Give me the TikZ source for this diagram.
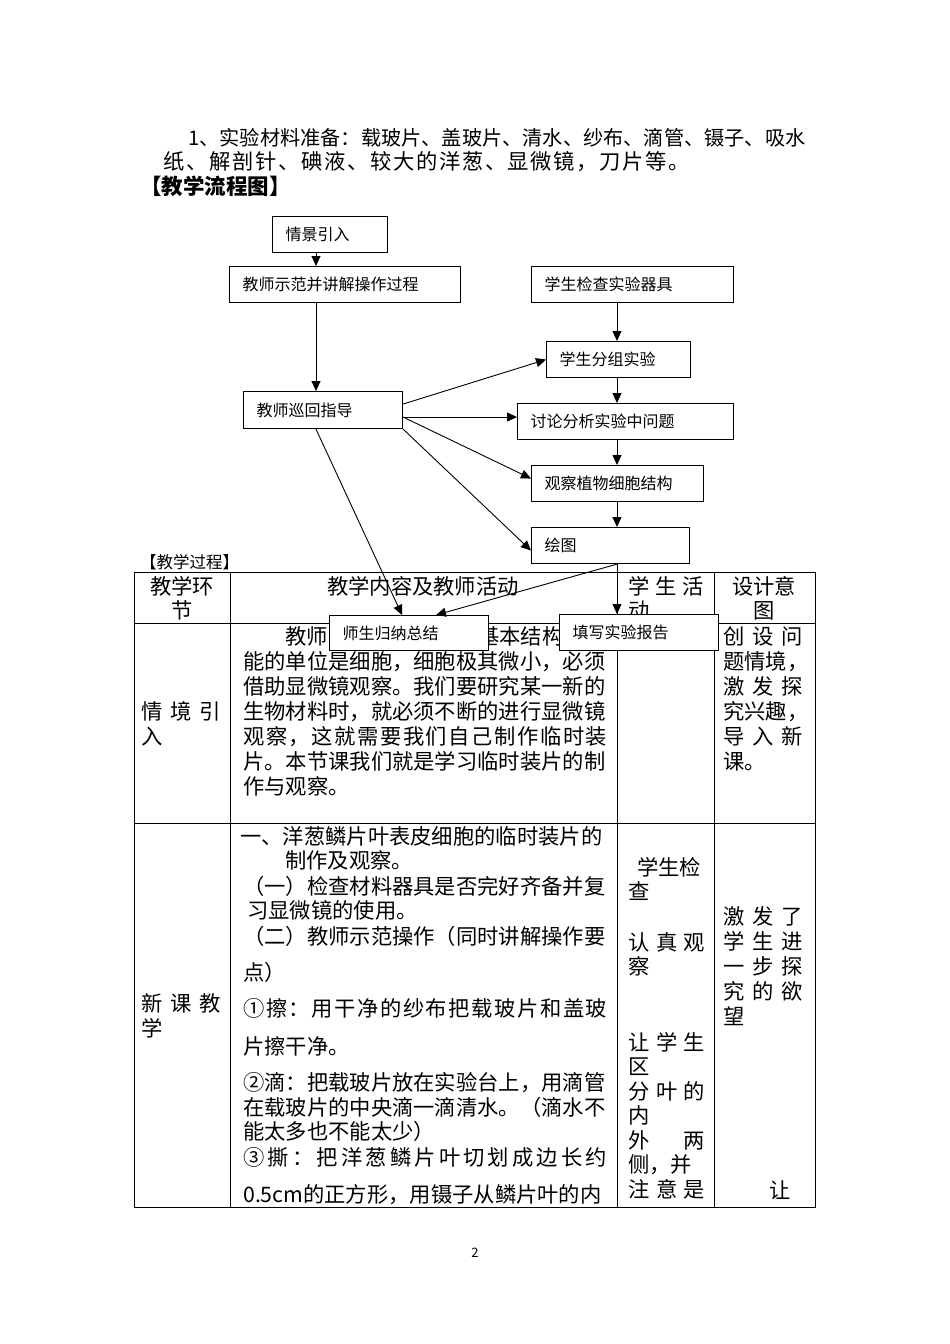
\documentclass[tikz,border=0pt]{standalone}
\usepackage{fontspec}
\setmainfont{Noto Sans CJK SC}
\usetikzlibrary{arrows.meta}

\newcommand{\bodyfont}{\fontsize{21.3}{25}\selectfont}
\newcommand{\flowfont}{\fontsize{16}{19}\selectfont}
% spread the characters of a line over a given width
\def\spreadloop#1{\ifx#1\relax\else\hfil#1\expandafter\spreadloop\fi}
\def\spreadfirst#1{#1\spreadloop}
\newcommand{\justline}[2]{\makebox[#1pt][s]{\spreadfirst#2\relax}}

\begin{document}
\begin{tikzpicture}[x=1pt, y=-1pt,
    flowbox/.style={draw, fill=white, line width=1.1pt, anchor=north west,
        inner xsep=13pt, inner ysep=0pt, minimum height=36pt, align=left, font=\flowfont},
    txt/.style={anchor=west, inner sep=0pt, font=\bodyfont, text height=18.8pt, text depth=2.6pt},
    arr/.style={line width=0.9pt, -{Triangle[length=10pt,width=9pt]}},
    grid/.style={line width=1pt}]
    \fill[white] (0,0) rectangle (950,1344);

    % text above the chart
    \node[txt, font=\fontsize{20.2}{24}\selectfont] (mat1) at (188,137) {1、实验材料准备：载玻片、盖玻片、清水、纱布、滴管、镊子、吸水};
    \node[txt] (mat2) at (163,161) {\justline{527}{纸、解剖针、碘液、较大的洋葱、显微镜，刀片等。}};
    \node[txt, font=\fontsize{21.5}{24}\selectfont\bfseries] (flowtitle) at (140,186) {【教学流程图】};

    % table
    \node[txt, font=\fontsize{16.5}{19}\selectfont] (proc) at (140,560) {【教学过程】};
    \draw[grid] (134,572) rectangle (815,1207);
    \foreach \cx in {230,617,714} \draw[grid] (\cx,572) -- (\cx,1207);
    \foreach \ry in {623,823} \draw[grid] (134,\ry) -- (815,\ry);

    \node[txt, anchor=center] (h1a) at (182,586) {教学环};
    \node[txt, anchor=center] (h1b) at (182,610) {节};
    \node[txt, anchor=center] (h2) at (423,586) {教学内容及教师活动};
    \node[txt] (h3a) at (628,586) {\justline{76}{学生活}};
    \node[txt] (h3b) at (628,610) {动};
    \node[txt, anchor=center] (h4a) at (764,586) {设计意};
    \node[txt, anchor=center] (h4b) at (764,610) {图};

    % row: 情境引入
    \node[txt] (r2a) at (141,711) {\justline{80}{情境引}};
    \node[txt] (r2b) at (141,736) {入};
    \node[txt] (r2c) at (285,636) {教师};
    \node[txt] (r2d) at (478,636) {基本结构};
    \foreach \t/\yy [count=\i] in {能的单位是细胞，细胞极其微小，必须/661,
        借助显微镜观察。我们要研究某一新的/686,
        生物材料时，就必须不断的进行显微镜/711,
        \justline{364}{观察，这就需要我们自己制作临时装}/736,
        片。本节课我们就是学习临时装片的制/761,
        作与观察。/786}
        \node[txt] (lead\i) at (243,\yy) {\t};
    \foreach \t/\yy [count=\i] in {\justline{80}{创设问}/636, 题情境，/661,
        \justline{80}{激发探}/686, 究兴趣，/711, \justline{80}{导入新}/736, 课。/761}
        \node[txt] (aim\i) at (723,\yy) {\t};

    % row: 新课教学
    \node[txt] (r3a) at (141,1003) {\justline{80}{新课教}};
    \node[txt] (r3b) at (141,1028) {学};
    \foreach \xx/\yy/\t [count=\i] in {240/836/一、洋葱鳞片叶表皮细胞的临时装片的,
        285/860/制作及观察。,
        243/886/（一）检查材料器具是否完好齐备并复,
        247/910/习显微镜的使用。,
        243/936/（二）教师示范操作（同时讲解操作要,
        243/972/点）,
        243/1008/\justline{364}{①擦：用干净的纱布把载玻片和盖玻},
        243/1046/片擦干净。,
        243/1082/②滴：把载玻片放在实验台上，用滴管,
        243/1107/在载玻片的中央滴一滴清水。（滴水不,
        243/1131/能太多也不能太少）,
        243/1157/\justline{364}{③撕：把洋葱鳞片叶切划成边长约},
        243/1194/0.5cm的正方形，用镊子从鳞片叶的内}
        \node[txt] (step\i) at (\xx,\yy) {\t};
    \foreach \xx/\yy/\t [count=\i] in {637/867/学生检, 628/891/查,
        628/942/\justline{77}{认真观}, 628/966/察,
        628/1042/\justline{77}{让学生}, 628/1066/区,
        628/1091/\justline{77}{分叶的}, 628/1115/内,
        628/1140/\justline{77}{外两}, 628/1164/侧，并,
        628/1189/\justline{77}{注意是}}
        \node[txt] (stu\i) at (\xx,\yy) {\t};
    \foreach \xx/\yy/\t [count=\i] in {723/916/\justline{80}{激发了},
        723/941/\justline{80}{学生进}, 723/966/\justline{80}{一步探},
        723/991/\justline{80}{究的欲}, 723/1016/望, 769/1190/让}
        \node[txt] (goal\i) at (\xx,\yy) {\t};

    % flow chart
    \node[flowbox, text width=89pt] (intro) at (272,216) {情景引入};
    \node[flowbox, text width=205pt] (demo) at (229,266) {教师示范并讲解操作过程};
    \node[flowbox, text width=176pt] (check) at (531,266) {学生检查实验器具};
    \node[flowbox, text width=118pt] (group) at (546,341) {学生分组实验};
    \node[flowbox, text width=133pt, minimum height=37pt] (tour) at (243,391) {教师巡回指导};
    \node[flowbox, text width=190pt] (discuss) at (517,403) {讨论分析实验中问题};
    \node[flowbox, text width=146pt] (observe) at (531,465) {观察植物细胞结构};
    \node[flowbox, text width=132pt] (sketch) at (531,527) {绘图};
    \node[flowbox, text width=133pt, minimum height=35pt] (summary) at (329,615) {师生归纳总结};
    \node[flowbox, text width=133pt] (report) at (559,614) {填写实验报告};

    \coordinate (lspine) at (316,0);
    \coordinate (rspine) at (617,0);
    \draw[arr] (intro.south -| lspine) -- (demo.north -| lspine);
    \draw[arr] (demo.south -| lspine) -- (tour.north -| lspine);
    \draw[arr] (check.south -| rspine) -- (group.north -| rspine);
    \draw[arr] (group.south -| rspine) -- (discuss.north -| rspine);
    \draw[arr] (discuss.south -| rspine) -- (observe.north -| rspine);
    \draw[arr] (observe.south -| rspine) -- (sketch.north -| rspine);
    \draw[arr] (sketch.south -| rspine) -- (report.north -| rspine);
    \draw[arr] (sketch.south -| rspine) -- ([xshift=27pt]summary.north);
    \draw[arr] ([yshift=6pt]tour.east) -- (group.west);
    \draw[arr] ([yshift=-7pt]tour.east) -- ([yshift=-7pt]tour.east -| discuss.west);
    \draw[arr] ([yshift=-7pt]tour.east) -- ([yshift=5pt]observe.west);
    \draw[arr] (tour.south east) -- ([yshift=-5pt]sketch.west);
    \draw[arr] (tour.south -| lspine) -- ([xshift=-7pt]summary.north);

    \node[font=\fontsize{13}{15}\selectfont] (pageno) at (475,1253) {2};
\end{tikzpicture}
\end{document}
